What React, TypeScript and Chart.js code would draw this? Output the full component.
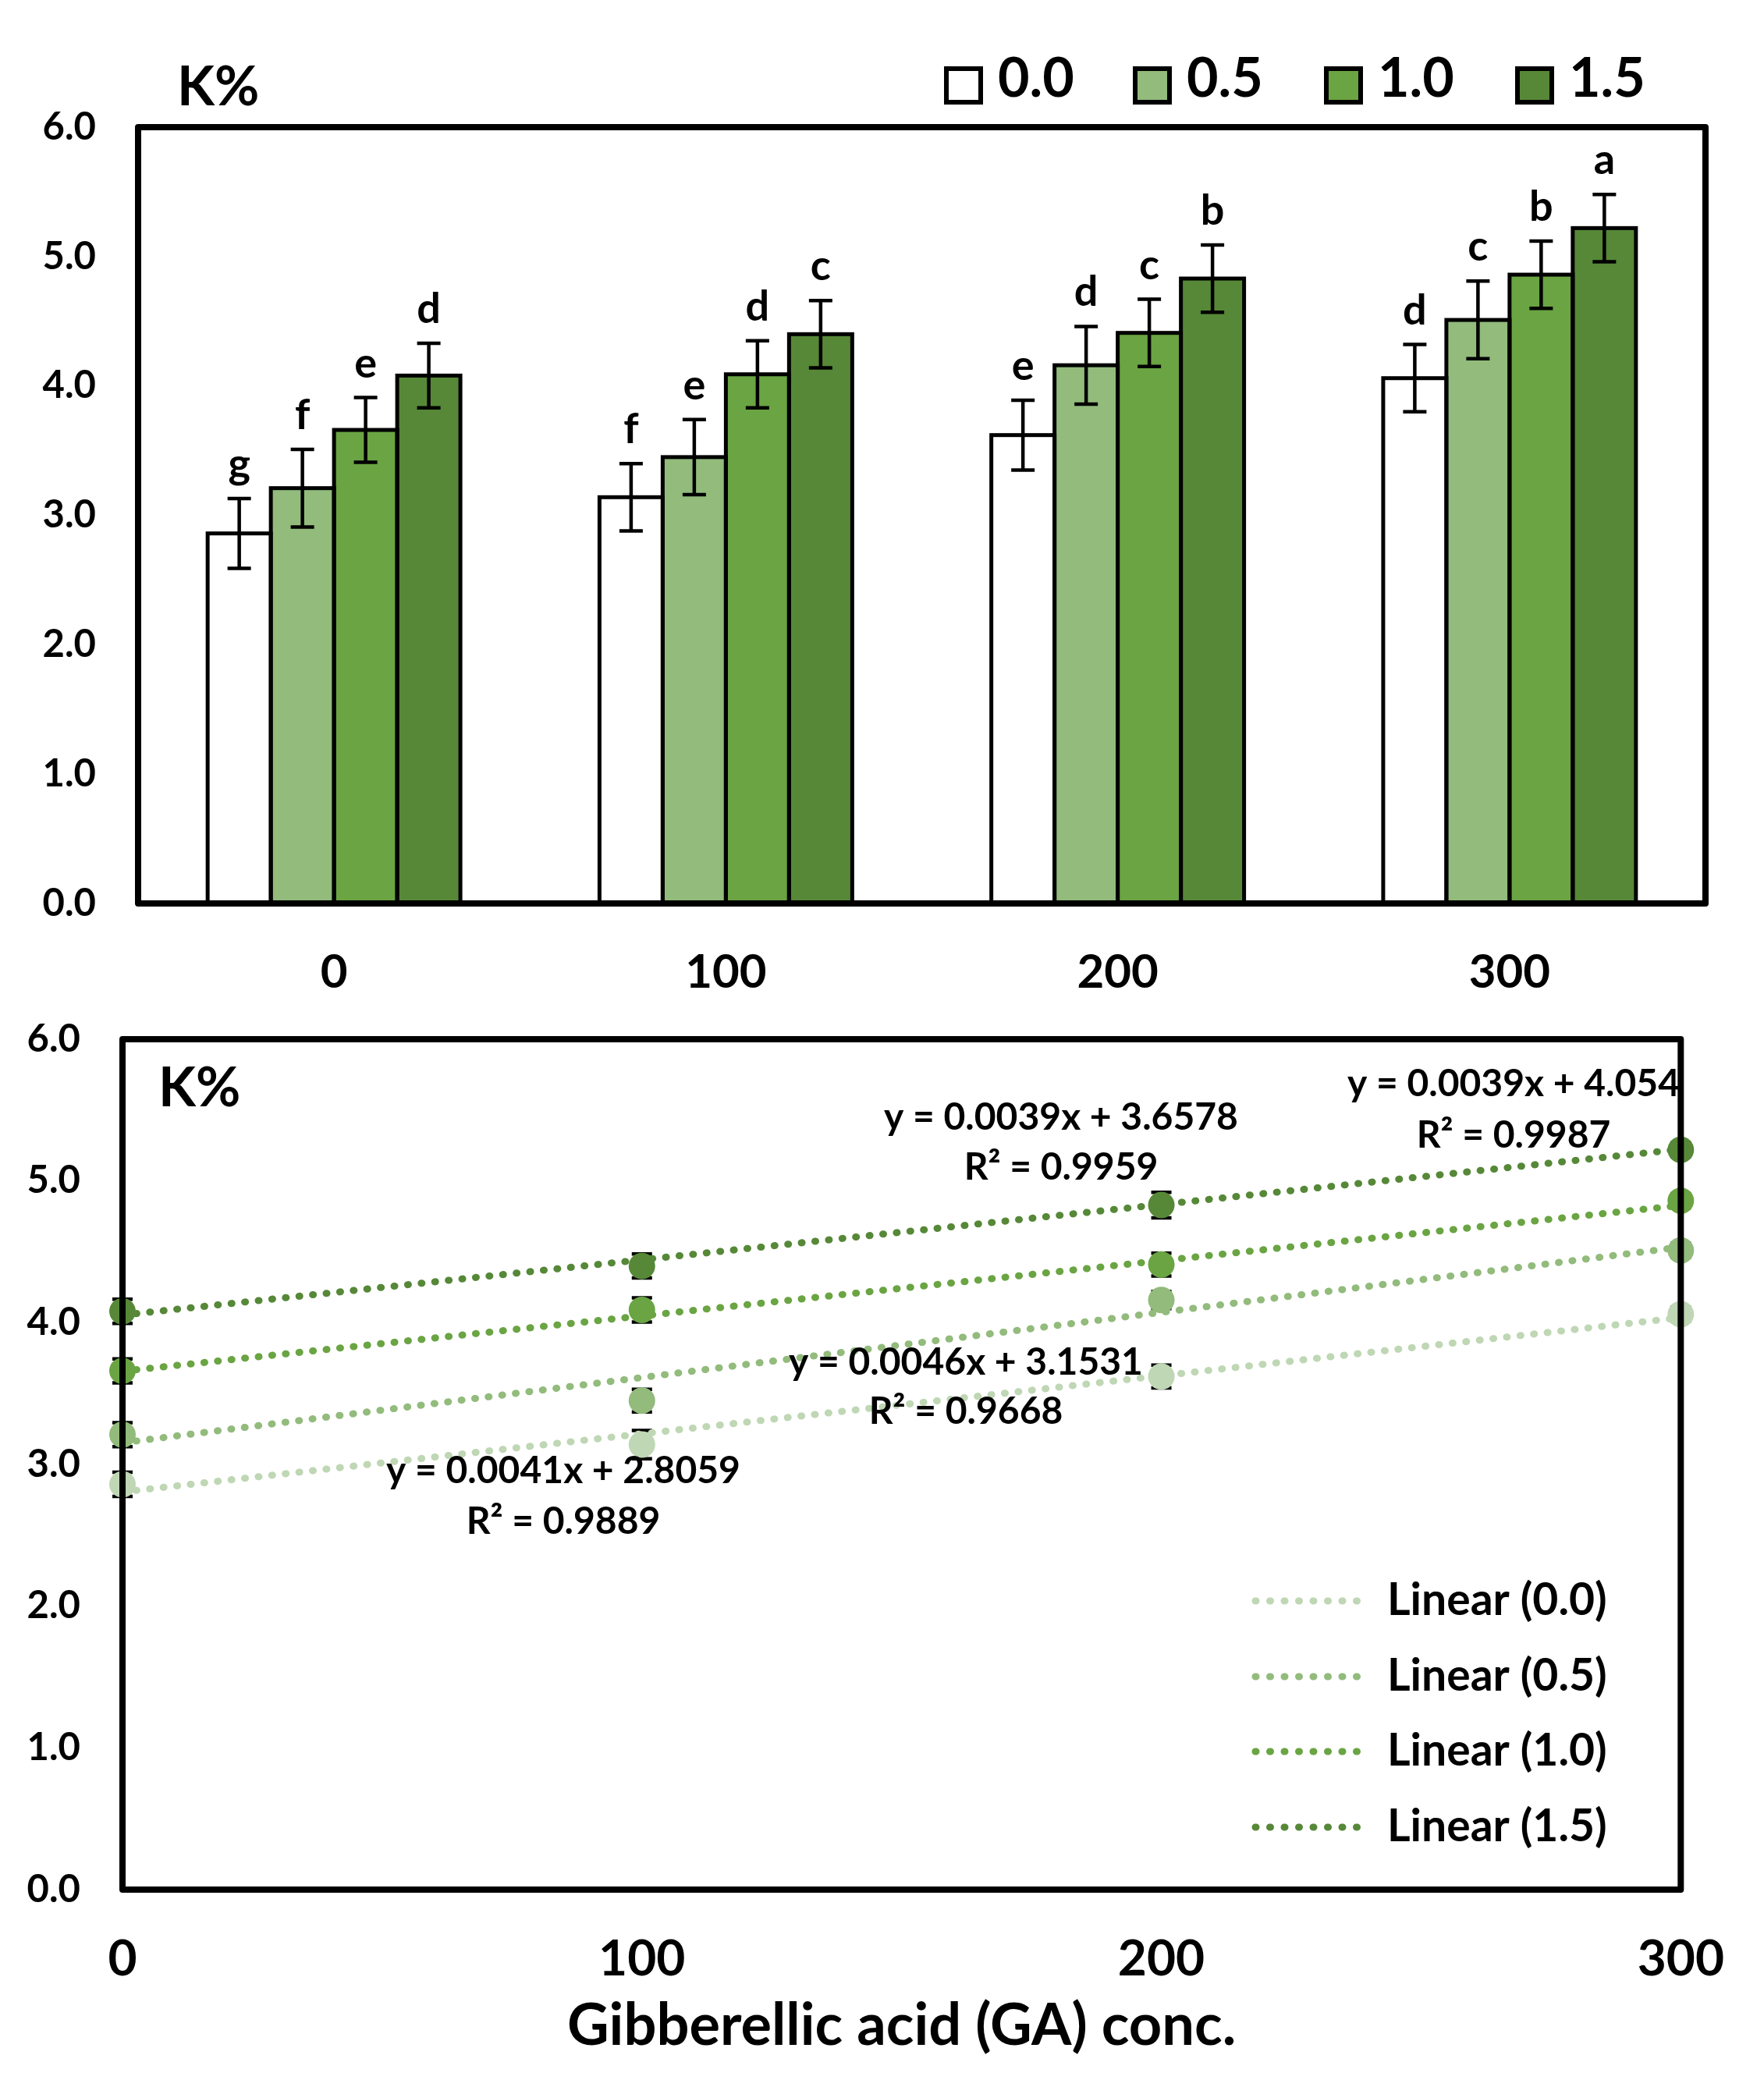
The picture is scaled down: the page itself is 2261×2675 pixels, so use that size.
import { useEffect, useRef } from "react"
import { Chart, registerables } from "chart.js"

Chart.register(...registerables)

const FONT = "Lato, 'Open Sans', sans-serif"

// GA concentrations (x) and the four treatment series
const gaLabels = ["0", "100", "200", "300"]
const gaValues = [0, 100, 200, 300]
const seriesNames = ["0.0", "0.5", "1.0", "1.5"]

const k00 = [2.86, 3.14, 3.62, 4.06]
const k05 = [3.21, 3.45, 4.16, 4.51]
const k10 = [3.66, 4.09, 4.41, 4.86]
const k15 = [4.08, 4.4, 4.83, 5.22]

const err00 = [0.27, 0.26, 0.27, 0.26]
const err05 = [0.3, 0.29, 0.3, 0.3]
const err10 = [0.25, 0.26, 0.26, 0.26]
const err15 = [0.25, 0.26, 0.26, 0.26]

const letters00 = ["g", "f", "e", "d"]
const letters05 = ["f", "e", "d", "c"]
const letters10 = ["e", "d", "c", "b"]
const letters15 = ["d", "c", "b", "a"]

// small error bars that peek out behind the markers in the lower chart
const smallErr00 = [0.085, 0.1, 0.08, 0.05]
const smallErr05 = [0.085, 0.08, 0.06, 0.05]
const smallErr10 = [0.085, 0.085, 0.08, 0.05]
const smallErr15 = [0.085, 0.085, 0.09, 0.05]

// trend line equations as printed
const slopes = [0.0041, 0.0046, 0.0039, 0.0039]
const intercepts = [2.8059, 3.1531, 3.6578, 4.054]
const r2Labels = ["0.9889", "0.9668", "0.9959", "0.9987"]
const eqLabels = ["y = 0.0041x + 2.8059", "y = 0.0046x + 3.1531", "y = 0.0039x + 3.6578", "y = 0.0039x + 4.054"]

const series = [k00, k05, k10, k15]
const errors = [err00, err05, err10, err15]
const letters = [letters00, letters05, letters10, letters15]
const smallErrors = [smallErr00, smallErr05, smallErr10, smallErr15]

const barColors = ["#ffffff", "#92bb7c", "#6aa443", "#568838"]
const pointColors = ["#bfd7b4", "#92bb7c", "#6aa443", "#568838"]

const font = (size: number) => `bold ${size}px ${FONT}`

const frame = {
  id: "frame",
  afterDraw(chart: any) {
    const { ctx, chartArea: a } = chart
    ctx.save()
    ctx.lineWidth = 8
    ctx.strokeStyle = "#000"
    ctx.lineJoin = "round"
    ctx.strokeRect(a.left, a.top, a.right - a.left, a.bottom - a.top)
    ctx.restore()
  },
}

// fixed-width y axis; drop the label padding chart.js would add above/below
const fixY = (w: number) => (s: any) => {
  s.width = w
  s.paddingTop = 0
  s.paddingBottom = 0
}

function BarChart() {
  const ref = useRef<HTMLCanvasElement>(null)
  const inst = useRef<Chart | null>(null)

  useEffect(() => {
    if (!ref.current) return
    if (inst.current) inst.current.destroy()

    const barExtras = {
      id: "barExtras",
      afterDatasetsDraw(chart: any) {
        const { ctx } = chart
        const yScale = chart.scales.y
        ctx.save()
        chart.data.datasets.forEach((_: any, i: number) => {
          const meta = chart.getDatasetMeta(i)
          meta.data.forEach((el: any) => {
            const { x, y, base, width } = el.getProps(["x", "y", "base", "width"], true)
            ctx.lineWidth = 5
            ctx.strokeStyle = "#000"
            ctx.strokeRect(x - width / 2, y, width, base - y)
          })
        })
        chart.data.datasets.forEach((_: any, i: number) => {
          const meta = chart.getDatasetMeta(i)
          meta.data.forEach((el: any, j: number) => {
            const x = el.x
            const v = series[i][j]
            const e = errors[i][j]
            const top = yScale.getPixelForValue(v + e)
            const bot = yScale.getPixelForValue(v - e)
            ctx.lineWidth = 4.5
            ctx.strokeStyle = "#000"
            ctx.beginPath()
            ctx.moveTo(x, top)
            ctx.lineTo(x, bot)
            ctx.moveTo(x - 15, top)
            ctx.lineTo(x + 15, top)
            ctx.moveTo(x - 15, bot)
            ctx.lineTo(x + 15, bot)
            ctx.stroke()
            ctx.fillStyle = "#000"
            ctx.font = font(54)
            ctx.textAlign = "center"
            ctx.textBaseline = "alphabetic"
            ctx.fillText(letters[i][j], x, top - 26)
          })
        })
        ctx.restore()
      },
      afterDraw(chart: any) {
        const { ctx } = chart
        ctx.save()
        ctx.fillStyle = "#000"
        ctx.textBaseline = "alphabetic"
        ctx.textAlign = "left"
        ctx.font = font(70)
        ctx.fillText("K%", 227, 135)
        const boxX = [1213, 1455, 1700, 1945]
        seriesNames.forEach((name, i) => {
          ctx.fillStyle = barColors[i]
          ctx.fillRect(boxX[i], 88, 44, 43)
          ctx.lineWidth = 6
          ctx.strokeStyle = "#000"
          ctx.strokeRect(boxX[i], 88, 44, 43)
          ctx.fillStyle = "#000"
          ctx.fillText(name, boxX[i] + 66, 124)
        })
        ctx.restore()
      },
    }

    inst.current = new Chart(ref.current, {
      type: "bar",
      data: {
        labels: gaLabels,
        datasets: seriesNames.map((name, i) => ({
          label: name,
          data: series[i],
          backgroundColor: barColors[i],
          borderWidth: 0,
          categoryPercentage: 0.645,
          barPercentage: 1,
        })),
      },
      options: {
        responsive: false,
        animation: false,
        layout: { padding: { top: 163, right: 75, left: 0, bottom: 0 } },
        plugins: { legend: { display: false }, tooltip: { enabled: false } },
        scales: {
          x: {
            grid: { display: false, drawTicks: false },
            border: { display: false },
            ticks: { color: "#000", font: { family: FONT, size: 60, weight: "bold" }, padding: 53 },
            afterFit: (s: any) => {
              s.height = 132
            },
          },
          y: {
            min: 0,
            max: 6,
            grid: { display: false, drawTicks: false },
            border: { display: false },
            ticks: {
              stepSize: 1,
              color: "#000",
              font: { family: FONT, size: 49, weight: "bold" },
              padding: 54,
              callback: (v: any) => Number(v).toFixed(1),
            },
            afterFit: fixY(177),
          },
        },
      },
      plugins: [barExtras, frame],
    } as any)

    return () => {
      if (inst.current) inst.current.destroy()
      inst.current = null
    }
  }, [])

  return <canvas ref={ref} width={2261} height={1290} style={{ position: "absolute", left: 0, top: 0, width: 2261, height: 1290 }} />
}

function TrendChart() {
  const ref = useRef<HTMLCanvasElement>(null)
  const inst = useRef<Chart | null>(null)

  useEffect(() => {
    if (!ref.current) return
    if (inst.current) inst.current.destroy()

    // equation label centres (canvas px): x, equation y, R² y
    const eqPos = [
      [722, 596, 661],
      [1238, 457, 520],
      [1360, 143, 207],
      [1940, 100, 166],
    ]
    const legendY = [762, 859, 955, 1052]

    const trendExtras = {
      id: "trendExtras",
      beforeDatasetsDraw(chart: any) {
        const { ctx } = chart
        const yScale = chart.scales.y
        ctx.save()
        ctx.strokeStyle = "#000"
        ctx.lineWidth = 4.5
        seriesNames.forEach((_, i) => {
          const meta = chart.getDatasetMeta(i + 4)
          meta.data.forEach((el: any, j: number) => {
            const v = series[i][j]
            const e = smallErrors[i][j]
            const top = yScale.getPixelForValue(v + e)
            const bot = yScale.getPixelForValue(v - e)
            ctx.beginPath()
            ctx.moveTo(el.x, top)
            ctx.lineTo(el.x, bot)
            ctx.moveTo(el.x - 13, top)
            ctx.lineTo(el.x + 13, top)
            ctx.moveTo(el.x - 13, bot)
            ctx.lineTo(el.x + 13, bot)
            ctx.stroke()
          })
        })
        ctx.restore()
      },
      afterDraw(chart: any) {
        const { ctx } = chart
        ctx.save()
        ctx.fillStyle = "#000"
        ctx.textBaseline = "alphabetic"
        ctx.font = font(70)
        ctx.textAlign = "left"
        ctx.fillText("K%", 203, 128)

        ctx.textBaseline = "middle"
        ctx.font = font(48)
        ctx.textAlign = "center"
        eqPos.forEach(([x, y1, y2], i) => {
          ctx.fillText(eqLabels[i], x, y1)
          ctx.fillText(`R² = ${r2Labels[i]}`, x, y2)
        })

        ctx.font = font(57)
        ctx.textAlign = "left"
        seriesNames.forEach((name, i) => {
          const y = legendY[i]
          ctx.strokeStyle = pointColors[i]
          ctx.lineWidth = 9
          ctx.lineCap = "round"
          ctx.setLineDash([1, 17.5])
          ctx.beginPath()
          ctx.moveTo(1609, y)
          ctx.lineTo(1755, y)
          ctx.stroke()
          ctx.setLineDash([])
          ctx.fillText(`Linear (${name})`, 1778, y)
        })
        ctx.restore()
      },
    }

    const trendSets = seriesNames.map((name, i) => ({
      type: "line",
      label: `Linear (${name})`,
      data: [
        { x: gaValues[0], y: intercepts[i] + slopes[i] * gaValues[0] },
        { x: gaValues[gaValues.length - 1], y: intercepts[i] + slopes[i] * gaValues[gaValues.length - 1] },
      ],
      borderColor: pointColors[i],
      borderWidth: 9,
      borderCapStyle: "round",
      borderDash: [1, 16.5],
      pointRadius: 0,
      fill: false,
      order: 2,
    }))

    const pointSets = seriesNames.map((name, i) => ({
      type: "scatter",
      label: name,
      data: gaValues.map((x, j) => ({ x, y: series[i][j] })),
      backgroundColor: pointColors[i],
      borderColor: pointColors[i],
      pointRadius: 17,
      pointBorderWidth: 0,
      clip: false,
      order: 1,
    }))

    inst.current = new Chart(ref.current, {
      type: "scatter",
      data: { datasets: [...trendSets, ...pointSets] },
      options: {
        responsive: false,
        animation: false,
        layout: { padding: { top: 42, right: 94, left: 0, bottom: 0 } },
        plugins: { legend: { display: false }, tooltip: { enabled: false } },
        scales: {
          x: {
            type: "linear",
            min: 0,
            max: 300,
            grid: { display: false, drawTicks: false },
            border: { display: false },
            ticks: { stepSize: 100, color: "#000", font: { family: FONT, size: 64, weight: "bold" }, padding: 51 },
            title: {
              display: true,
              text: "Gibberellic acid (GA) conc.",
              color: "#000",
              font: { family: FONT, size: 74, weight: "bold" },
              padding: { top: 0, bottom: 33 },
            },
            afterFit: (s: any) => {
              s.height = 253
            },
          },
          y: {
            min: 0,
            max: 6,
            grid: { display: false, drawTicks: false },
            border: { display: false },
            ticks: {
              stepSize: 1,
              color: "#000",
              font: { family: FONT, size: 49, weight: "bold" },
              padding: 54,
              callback: (v: any) => Number(v).toFixed(1),
            },
            afterFit: fixY(157),
          },
        },
      },
      plugins: [trendExtras, frame],
    } as any)

    return () => {
      if (inst.current) inst.current.destroy()
      inst.current = null
    }
  }, [])

  return <canvas ref={ref} width={2261} height={1385} style={{ position: "absolute", left: 0, top: 1290, width: 2261, height: 1385 }} />
}

export default function App() {
  return (
    <div style={{ position: "absolute", left: 0, top: 0, width: 2261, height: 2675, background: "#fff" }}>
      <BarChart />
      <TrendChart />
    </div>
  )
}
